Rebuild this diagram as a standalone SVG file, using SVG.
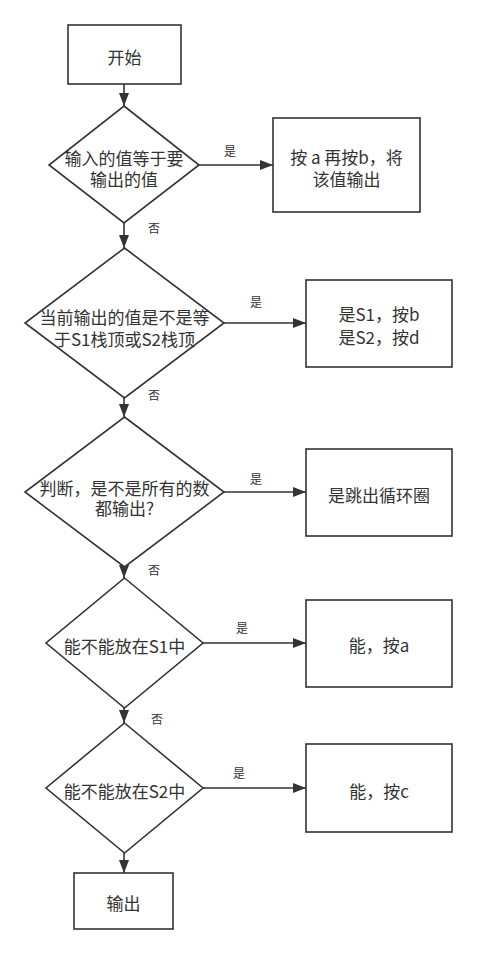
<svg xmlns="http://www.w3.org/2000/svg" width="477" height="954" viewBox="0 0 477 954">
<style>
.s{fill:#fff;stroke:#333;stroke-width:1.6}
.t{font-family:"Noto Sans CJK SC","Liberation Sans",sans-serif;font-size:17px;fill:#333;text-anchor:middle;dominant-baseline:central}
.l{font-family:"Noto Sans CJK SC","Liberation Sans",sans-serif;font-size:12px;fill:#333;text-anchor:middle;dominant-baseline:central}
.c{fill:none;stroke:#333;stroke-width:1.6;marker-end:url(#a)}
</style>
<defs>
<marker id="a" markerUnits="userSpaceOnUse" markerWidth="14" markerHeight="10" refX="13" refY="5" orient="auto">
<path d="M0,0 L13,5 L0,10 z" fill="#333"/>
</marker>
</defs>
<rect width="477" height="954" fill="#fff"/>
<g id="connectors">
<path class="c" d="M124,84 V106"/>
<path class="c" d="M199,165 H273"/>
<path class="c" d="M124,223 V248"/>
<path class="c" d="M224,323 H306"/>
<path class="c" d="M124,398 V417"/>
<path class="c" d="M224,492 H306"/>
<path class="c" d="M124,567 V578"/>
<path class="c" d="M203,643 H306"/>
<path class="c" d="M124,708 V723"/>
<path class="c" d="M203,788 H306"/>
<path class="c" d="M124,853 V873"/>
<text class="l" x="230" y="150">是</text>
<text class="l" x="154" y="227">否</text>
<text class="l" x="256" y="301">是</text>
<text class="l" x="154" y="394">否</text>
<text class="l" x="256" y="478">是</text>
<text class="l" x="154" y="569">否</text>
<text class="l" x="242" y="627">是</text>
<text class="l" x="157" y="718">否</text>
<text class="l" x="239" y="772">是</text>
</g>
<g id="start"><rect class="s" x="68" y="25" width="113" height="59"/><text class="t" x="124.5" y="56">开始</text></g>
<g id="d1"><polygon class="s" points="124,106 199,165 124,223 49,165"/><text class="t" x="124" y="157">输入的值等于要</text><text class="t" x="124" y="178">输出的值</text></g>
<g id="b1"><rect class="s" x="273" y="118" width="147" height="94"/><text class="t" x="346.5" y="156">按 a 再按b，将</text><text class="t" x="346.5" y="178">该值输出</text></g>
<g id="d2"><polygon class="s" points="124.5,248 224,323 124.5,398 25,323"/><text class="t" x="124.5" y="316">当前输出的值是不是等</text><text class="t" x="124.5" y="338">于S1栈顶或S2栈顶</text></g>
<g id="b2"><rect class="s" x="306" y="280" width="146" height="87"/><text class="t" x="379" y="313">是S1，按b</text><text class="t" x="379" y="336">是S2，按d</text></g>
<g id="d3"><polygon class="s" points="124.5,417 224,492 124.5,567 25,492"/><text class="t" x="124.5" y="487">判断，是不是所有的数</text><text class="t" x="124.5" y="507">都输出?</text></g>
<g id="b3"><rect class="s" x="306" y="449" width="146" height="87"/><text class="t" x="379" y="494">是跳出循环圈</text></g>
<g id="d4"><polygon class="s" points="124.5,578 203,643 124.5,708 46,643"/><text class="t" x="124.5" y="645">能不能放在S1中</text></g>
<g id="b4"><rect class="s" x="306" y="600" width="146" height="87"/><text class="t" x="379" y="644">能，按a</text></g>
<g id="d5"><polygon class="s" points="124.5,723 203,788 124.5,853 46,788"/><text class="t" x="124.5" y="790">能不能放在S2中</text></g>
<g id="b5"><rect class="s" x="306" y="744" width="146" height="88"/><text class="t" x="379" y="790">能，按c</text></g>
<g id="out"><rect class="s" x="74" y="873" width="99" height="56"/><text class="t" x="123.5" y="902">输出</text></g>
</svg>
